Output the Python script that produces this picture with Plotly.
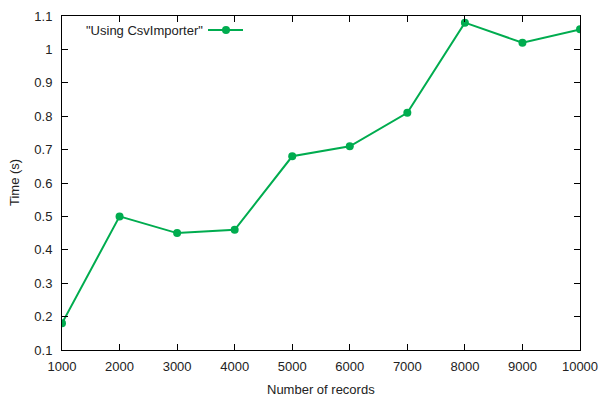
import plotly.graph_objects as go

records = [1000, 2000, 3000, 4000, 5000, 6000, 7000, 8000, 9000, 10000]
times = [0.18, 0.50, 0.45, 0.46, 0.68, 0.71, 0.81, 1.08, 1.02, 1.06]
series_name = '"Using CsvImporter"'
x_ticks = [1000, 2000, 3000, 4000, 5000, 6000, 7000, 8000, 9000, 10000]
x_labels = [str(v) for v in x_ticks]
y_ticks = [0.1, 0.2, 0.3, 0.4, 0.5, 0.6, 0.7, 0.8, 0.9, 1.0, 1.1]
y_labels = ["0.1", "0.2", "0.3", "0.4", "0.5", "0.6", "0.7", "0.8", "0.9", "1", "1.1"]

color = "#00ac4f"
font = dict(family="Liberation Sans, Arial, sans-serif", size=13, color="#222222")

fig = go.Figure()
fig.add_trace(go.Scatter(x=records, y=times, mode="lines+markers",
                         line=dict(color=color, width=2),
                         marker=dict(color=color, size=8),
                         showlegend=False, hoverinfo="skip"))

L, R, T, B = 62, 20, 16, 50
W, H = 600, 400
pw, ph = W - L - R, H - T - B

fig.update_layout(
    width=W, height=H, margin=dict(l=L, r=R, t=T, b=B, autoexpand=False),
    paper_bgcolor="white", plot_bgcolor="white", font=font,
    xaxis=dict(range=[1000, 10000], tickvals=x_ticks, ticktext=x_labels, ticks="inside", ticklen=6,
               tickcolor="black", showline=True, linecolor="black", linewidth=1,
               mirror="ticks", showgrid=False, zeroline=False, ticklabelstandoff=4,
               automargin=False),
    yaxis=dict(range=[0.1, 1.1], tickvals=y_ticks, ticktext=y_labels, ticks="inside",
               ticklen=6, tickcolor="black", showline=True, linecolor="black", linewidth=1,
               mirror="ticks", showgrid=False, zeroline=False, ticklabelstandoff=6,
               automargin=False),
)

# axis titles
fig.add_annotation(text="Number of records", xref="paper", yref="paper",
                   x=0.5, y=-(389 - T - ph) / ph, xanchor="center", yanchor="middle",
                   showarrow=False, font=font)
fig.add_annotation(text="Time (s)", xref="paper", yref="paper",
                   x=(14 - L) / pw, y=0.5, xanchor="center", yanchor="middle",
                   textangle=-90, showarrow=False, font=font)

# legend key
ly = 1 - (30 - T) / ph
fig.add_annotation(text=series_name, xref="paper", yref="paper",
                   x=(205 - L) / pw, y=ly, xanchor="right", yanchor="middle",
                   showarrow=False, font=font)
x0, x1 = (208 - L) / pw, (243 - L) / pw
fig.add_shape(type="line", xref="paper", yref="paper", x0=x0, x1=x1, y0=ly, y1=ly,
              line=dict(color=color, width=2))
xm = (226 - L) / pw
rx, ry = 4 / pw, 4 / ph
fig.add_shape(type="circle", xref="paper", yref="paper", x0=xm - rx, x1=xm + rx,
              y0=ly - ry, y1=ly + ry, fillcolor=color, line=dict(color=color, width=0))

fig.write_html("out.html", config={"displayModeBar": False},
               post_script="document.body.style.margin='0';document.body.style.overflow='hidden';")
